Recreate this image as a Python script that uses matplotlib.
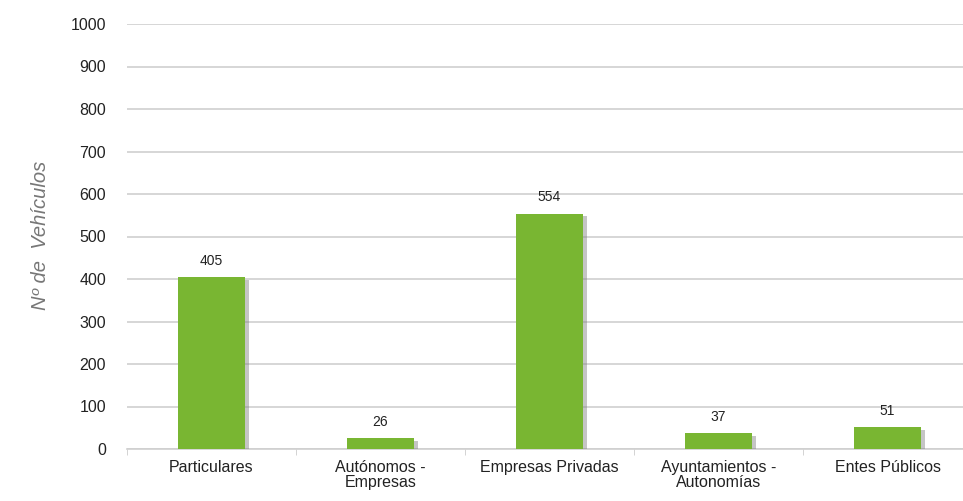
import numpy as np
import matplotlib
matplotlib.use("Agg")
import matplotlib.pyplot as plt
import matplotlib.patheffects as pe

# ============================================================
# 数据
# ============================================================
categories = ["Particulares", "Autónomos -\nEmpresas", "Empresas Privadas",
              "Ayuntamientos -\nAutonomías", "Entes Públicos"]
values = [405, 26, 554, 37, 51]
yticks = [0, 100, 200, 300, 400, 500, 600, 700, 800, 900, 1000]

plt.rcParams["font.family"] = ["Liberation Sans", "DejaVu Sans"]

fig = plt.figure(figsize=(9.63, 5.01), dpi=100)
ax = fig.add_axes([127 / 963, 1 - 449 / 501, 845 / 963, 425 / 501])

x = np.arange(len(categories))
bars = ax.bar(x, values, width=0.4, color="#79b632", zorder=3,
              path_effects=[pe.SimplePatchShadow(offset=(3, -2), shadow_rgbFace="#808080", alpha=0.45),
                            pe.Normal()])

for xi, v in zip(x, values):
    ax.text(xi, v + 22, str(v), ha="center", va="bottom", fontsize=10, color="#222222")

ax.set_xlim(-0.5, len(categories) - 0.5)
ax.set_ylim(0, 1000)
ax.set_yticks(yticks)
ax.set_yticklabels([str(t) for t in yticks], fontsize=11.5, color="#222222")
ax.yaxis.grid(True, color="#cfcfcf", linewidth=1.2, zorder=0)
ax.tick_params(axis="y", length=0, pad=15)

# x 轴刻度放在类别之间
ax.set_xticks(x)
ax.set_xticklabels(categories, fontsize=11.5, color="#222222", linespacing=1.0)
ax.tick_params(axis="x", length=0, pad=8)
ax.set_xticks(np.arange(len(categories) + 1) - 0.5, minor=True)
ax.tick_params(axis="x", which="minor", length=4, color="#cccccc")

for s in ["top", "right", "left"]:
    ax.spines[s].set_visible(False)
ax.spines["bottom"].set_color("#cfcfcf")
ax.spines["bottom"].set_linewidth(1.2)

fig.text(40 / 963, 1 - 235 / 501, "Nº de  Vehículos", rotation=90, fontsize=14.5,
         style="italic", color="#777777", ha="center", va="center")

fig.savefig("out.png", dpi=100)
